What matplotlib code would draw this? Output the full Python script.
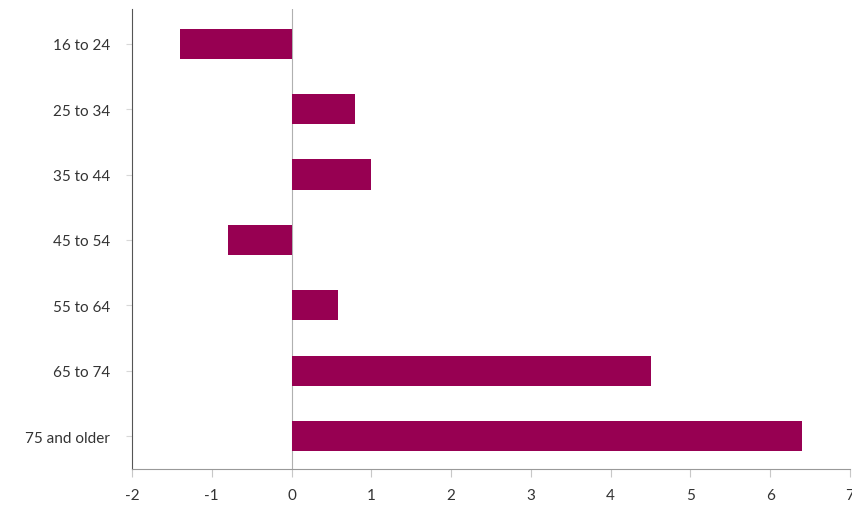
import matplotlib

matplotlib.use("Agg")
import matplotlib.pyplot as plt

# Age groups and their values
groups = ["16 to 24", "25 to 34", "35 to 44", "45 to 54", "55 to 64", "65 to 74", "75 and older"]
values = [-1.4, 0.8, 1.0, -0.8, 0.58, 4.5, 6.4]
xticks = [-2, -1, 0, 1, 2, 3, 4, 5, 6, 7]

plt.rcParams["font.family"] = ["Lato", "DejaVu Sans"]

fig = plt.figure(figsize=(8.52, 5.06), dpi=100)
ax = fig.add_axes([132 / 852, 1 - 470 / 506, 718 / 852, 460 / 506])

ypos = list(range(len(groups)))
ax.barh(ypos, values, height=0.46, color="#970052", edgecolor="none", zorder=3)

ax.axvline(0, color="#b0b0b0", linewidth=0.8, zorder=2)

ax.set_xlim(-2, 7)
ax.set_ylim(len(groups) - 0.5, -0.53)
ax.set_xticks(xticks)
ax.set_xticklabels([str(t) for t in xticks])
ax.set_yticks(ypos)
ax.set_yticklabels(groups)

ax.spines["top"].set_visible(False)
ax.spines["right"].set_visible(False)
ax.spines["left"].set_color("#555555")
ax.spines["bottom"].set_color("#999999")
ax.tick_params(axis="x", colors="#c8c8c8", labelcolor="#333333", length=6, labelsize=11, pad=8)
ax.tick_params(axis="y", colors="#d8d8d8", labelcolor="#333333", length=4, labelsize=11, pad=12)

fig.savefig("out.png", dpi=100, facecolor="white")
